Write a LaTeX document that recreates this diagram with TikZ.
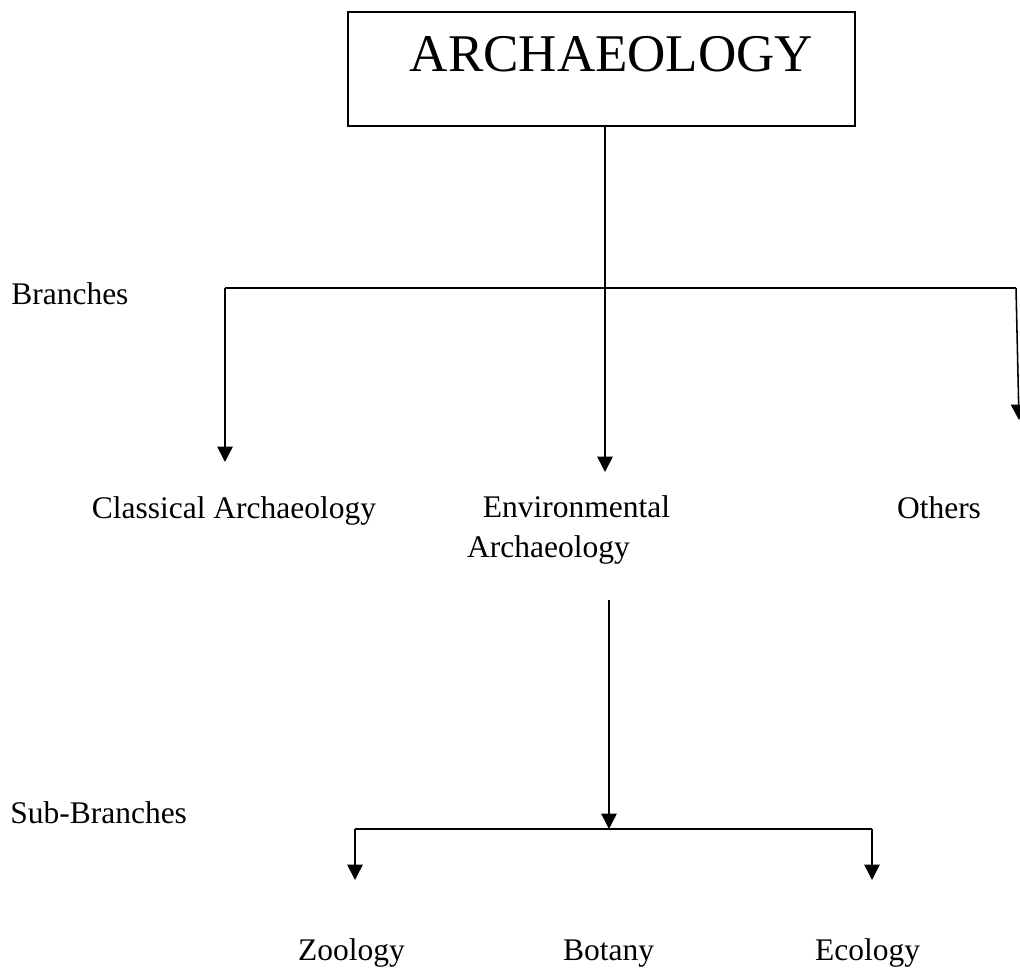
\documentclass[tikz,border=0pt]{standalone}
\usepackage{fontspec}
\setmainfont{Liberation Serif}
\usetikzlibrary{arrows.meta}
\tikzset{
  lbl/.style={font=\fontsize{22.4}{27}\selectfont, inner sep=0pt, anchor=base},
  ttl/.style={font=\fontsize{37.7}{45}\selectfont, inner sep=0pt, anchor=base},
  topbox/.style={draw, line width=1.6pt, minimum width=12.675cm, minimum height=2.85cm, inner sep=0pt},
  link/.style={line width=1.1pt},
  arr/.style={link, -{Triangle[length=11pt, width=11pt]}}
}
\begin{document}
\begin{tikzpicture}[x=0.025cm, y=-0.025cm]
        \useasboundingbox (0,0) rectangle (1020,971);
        \clip (0,0) rectangle (1020,971);
        \node[topbox] (root) at (601.5,69) {};
        \node[ttl] (title) at (611.5,72) {ARCHAEOLOGY};
        \node[lbl, anchor=base west] (branches) at (11,305) {Branches};
        \node[lbl, anchor=base west] (subbranches) at (10,823) {Sub-Branches};
        \node[lbl] (classical) at (234,518) {Classical Archaeology};
        \node[lbl] (env) at (576.5,517) {Environmental};
        \node[lbl] (enva) at (548.5,557) {Archaeology};
        \node[lbl] (others) at (939,518) {Others};
        \node[lbl] (zoology) at (351.5,960) {Zoology};
        \node[lbl] (botany) at (608.5,960) {Botany};
        \node[lbl] (ecology) at (867.5,960) {Ecology};
        \coordinate (jl) at (225,288);
        \coordinate (jr) at (1016,288);
        \coordinate (tl) at (225,462);
        \coordinate (tm) at (605,472);
        \coordinate (tr) at (1019,420);
        \coordinate (es) at (609,600);
        \coordinate (sub) at (609,829);
        \coordinate (sl) at (355,829);
        \coordinate (sr) at (872,829);
        \coordinate (bl) at (355,880);
        \coordinate (br) at (872,880);
        \draw[arr] (root.south -| tm) -- (tm);
        \draw[link] (jl) -- (jr);
        \draw[arr] (jl) -- (tl);
        \draw[arr] (jr) -- (tr);
        \draw[arr] (es) -- (sub);
        \draw[link] (sl) -- (sr);
        \draw[arr] (sl) -- (bl);
        \draw[arr] (sr) -- (br);
      \end{tikzpicture}
\end{document}
